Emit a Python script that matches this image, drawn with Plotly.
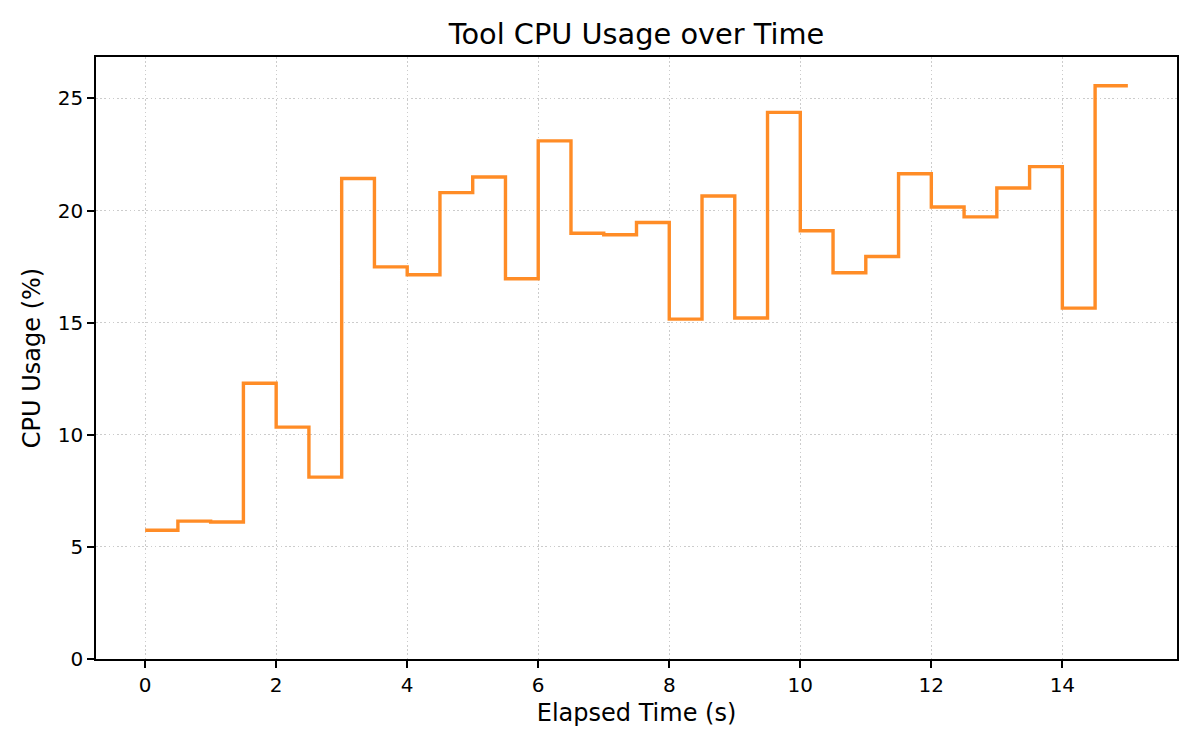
import plotly.graph_objects as go

# elapsed time (s) and CPU usage (%) samples, drawn as a post step line
elapsed_s = [0.0, 0.5, 1.0, 1.5, 2.0, 2.5, 3.0, 3.5, 4.0, 4.5, 5.0, 5.5, 6.0, 6.5, 7.0, 7.5,
             8.0, 8.5, 9.0, 9.5, 10.0, 10.5, 11.0, 11.5, 12.0, 12.5, 13.0, 13.5, 14.0, 14.5, 15.0]
cpu_pct = [5.74, 6.15, 6.11, 12.30, 10.34, 8.11, 21.43, 17.49, 17.14, 20.80, 21.50, 16.96,
           23.11, 18.99, 18.92, 19.47, 15.16, 20.65, 15.21, 24.38, 19.10, 17.23, 17.95, 21.64,
           20.16, 19.72, 21.01, 21.96, 15.65, 25.57, 25.57]

x_ticks = [0, 2, 4, 6, 8, 10, 12, 14]
y_ticks = [0, 5, 10, 15, 20, 25]

fig = go.Figure()
fig.add_trace(go.Scatter(
    x=elapsed_s, y=cpu_pct, mode="lines",
    line=dict(shape="hv", color="#ff8c26", width=3.4),
    showlegend=False,
))

axis_style = dict(
    showline=True, linecolor="black", linewidth=1.6, mirror=True,
    ticks="outside", ticklen=7, tickwidth=1.6, tickcolor="black",
    showgrid=True, gridcolor="#cccccc", griddash="1.6px,2.6px", gridwidth=1.3,
    zeroline=False, tickfont=dict(size=20, color="black"),
)

# page body has an 8px margin, so the figure is a bit smaller than the window
fig.update_layout(
    width=1184, height=734,
    paper_bgcolor="white", plot_bgcolor="white",
    font=dict(family="DejaVu Sans", color="black"),
    title=dict(text="Tool CPU Usage over Time", xref="paper", x=0.5, xanchor="center",
               y=0.965, yanchor="middle", font=dict(size=28.8)),
    margin=dict(l=88, r=15, t=49, b=83),
)
fig.update_xaxes(range=[-0.75, 15.75], tickvals=x_ticks,
                 title=dict(text="Elapsed Time (s)", font=dict(size=24), standoff=8),
                 **axis_style)
fig.update_yaxes(range=[0, 26.85], tickvals=y_ticks,
                 title=dict(text="CPU Usage (%)", font=dict(size=24), standoff=10),
                 **axis_style)

fig.write_html("out.html")
